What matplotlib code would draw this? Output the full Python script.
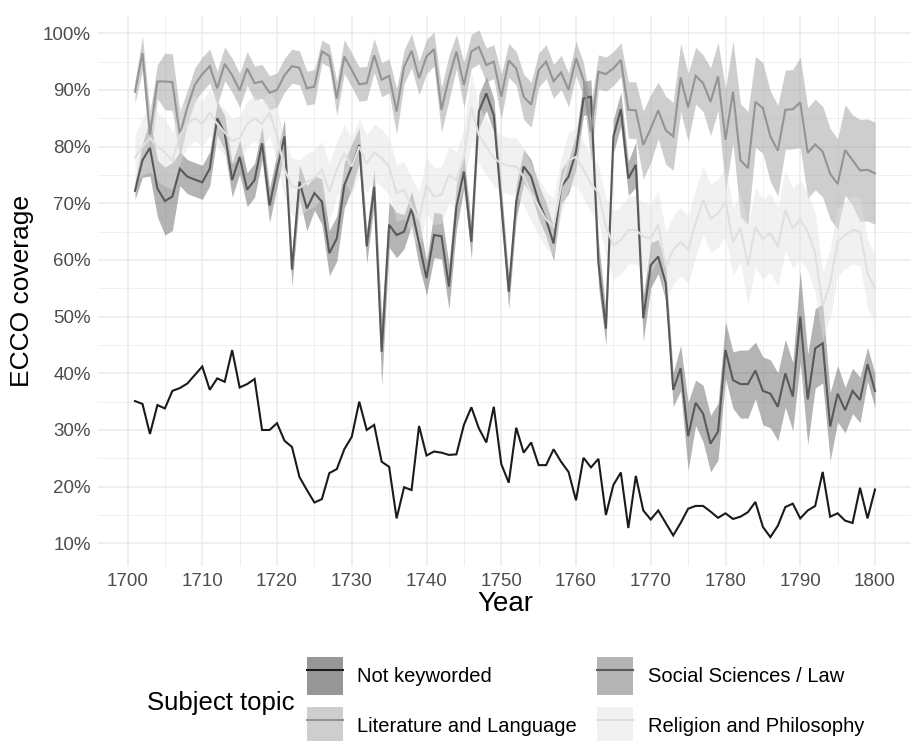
import numpy as np
import matplotlib
matplotlib.use('Agg')
import matplotlib.pyplot as plt
from matplotlib.patches import Patch
from matplotlib.lines import Line2D
from matplotlib.ticker import MultipleLocator

plt.rcParams['font.family'] = ['Liberation Sans', 'DejaVu Sans']

years = np.arange(1701, 1801)

# coverage (%) per year
not_keyworded = [35.1, 34.6, 29.3, 34.4, 33.8, 36.9, 37.4, 38.2, 39.7, 41.2,
                 37.1, 39.1, 38.5, 44.1, 37.5, 38.1, 39.0, 30.0, 30.0, 31.2,
                 28.1, 27.0, 21.7, 19.4, 17.2, 17.8, 22.4, 23.1, 26.6, 28.8,
                 35.0, 30.0, 30.9, 24.4, 23.5, 14.4, 19.9, 19.4, 30.7, 25.5,
                 26.2, 26.0, 25.6, 25.7, 30.9, 34.0, 30.3, 27.8, 34.1, 24.0,
                 20.7, 30.4, 26.0, 27.8, 23.8, 23.8, 26.6, 24.4, 22.6, 17.6,
                 25.1, 23.4, 24.9, 15.0, 20.3, 22.5, 12.7, 21.9, 15.8, 14.2,
                 15.8, 13.6, 11.4, 13.6, 16.1, 16.6, 16.6, 15.6, 14.5, 15.3,
                 14.3, 14.7, 15.5, 17.3, 12.9, 11.1, 13.1, 16.4, 17.0, 14.4,
                 15.8, 16.6, 22.6, 14.7, 15.3, 14.0, 13.6, 19.8, 14.4, 19.5]

social_law = [72.2, 77.6, 79.8, 72.6, 70.4, 71.2, 76.1, 74.7, 74.2, 73.7,
              76.1, 85.0, 82.4, 74.1, 78.2, 72.4, 74.1, 80.6, 69.6, 75.9,
              81.8, 58.3, 73.8, 69.1, 71.8, 70.3, 61.2, 63.8, 73.2, 76.5,
              80.3, 62.4, 72.9, 43.8, 66.2, 64.4, 65.0, 69.1, 63.0, 56.8,
              64.4, 64.2, 55.3, 69.4, 75.6, 63.2, 86.2, 89.4, 85.5, 70.0,
              54.4, 70.3, 76.5, 74.7, 70.3, 67.1, 62.9, 72.9, 74.7, 79.1,
              88.5, 88.8, 59.4, 47.9, 81.8, 86.6, 74.4, 76.8, 49.7, 59.1,
              60.6, 55.9, 37.1, 40.9, 28.9, 34.8, 32.9, 27.6, 29.7, 44.1,
              38.8, 38.1, 38.1, 40.5, 36.9, 36.4, 34.1, 40.0, 35.9, 50.0,
              35.4, 44.4, 45.3, 30.6, 36.4, 33.5, 36.9, 35.3, 41.6, 36.9]
social_hw = [1.5, 3, 5, 5, 6, 6, 3, 3, 3, 3,
             3, 3, 3, 3, 3, 3, 3, 3, 3, 3,
             3, 3, 3, 4, 3, 4, 4, 4, 4, 4,
             3, 3, 3, 6, 4, 4, 3, 3, 4, 3,
             4, 4, 4, 4, 3, 3, 3, 3, 3, 3,
             3, 3, 3, 3, 3, 3, 3, 3, 3, 3,
             3, 3, 4, 3, 3, 3, 3, 4, 4, 4,
             3, 3, 3, 4, 6, 4, 5, 5, 5, 5,
             5, 6, 6, 5, 6, 6, 6, 6, 6, 8,
             8, 7, 7, 6, 5, 4, 4, 4, 3, 3]

literature = [89.7, 96.5, 82.1, 91.5, 91.5, 91.4, 82.1, 86.9, 90.9, 92.8,
              94.2, 90.3, 94.6, 92.6, 89.9, 93.8, 91.2, 91.5, 89.5, 90.0,
              92.6, 94.2, 93.9, 90.3, 90.6, 96.8, 96.0, 88.5, 95.9, 93.5,
              91.0, 91.2, 96.1, 91.8, 92.5, 86.2, 94.1, 96.9, 92.1, 95.9,
              97.2, 86.5, 92.1, 96.8, 90.9, 96.8, 97.6, 94.4, 95.0, 88.8,
              95.2, 93.8, 88.8, 87.4, 93.5, 95.0, 91.5, 93.1, 90.0, 95.6,
              91.8, 82.6, 93.2, 92.8, 93.8, 95.3, 86.5, 86.4, 80.3, 83.2,
              86.4, 82.9, 81.8, 92.2, 86.9, 92.5, 91.2, 87.9, 92.4, 81.2,
              89.7, 77.6, 76.2, 87.9, 86.8, 81.8, 79.3, 86.5, 86.6, 87.8,
              78.9, 80.4, 79.1, 75.2, 73.4, 79.4, 77.6, 75.8, 75.9, 75.3]
literature_hw = [2, 3, 4, 3, 5, 5, 4, 3, 3, 3,
                 3, 3, 3, 3, 3, 3, 3, 3, 3, 3,
                 3, 3, 3, 3, 3, 2, 2, 3, 3, 3,
                 3, 3, 3, 3, 3, 4, 3, 3, 3, 3,
                 3, 4, 4, 3, 4, 3, 3, 3, 3, 4,
                 3, 3, 4, 4, 3, 3, 3, 3, 3, 3,
                 3, 5, 3, 3, 3, 3, 5, 5, 6, 6,
                 5, 6, 6, 6, 6, 5, 5, 6, 6, 9,
                 9, 10, 10, 8, 8, 8, 8, 7, 7, 8,
                 8, 8, 8, 8, 8, 8, 8, 9, 9, 9]

religion = [78, 80, 81.5, 80, 79, 77.5, 82, 84, 85, 84,
            86, 84, 82.5, 81, 81.5, 84, 85, 84, 86, 82,
            76, 73, 72.7, 73.8, 74.4, 75.9, 72, 76, 78.8, 76.5,
            80, 77, 79, 78, 76.5, 71.8, 72.3, 69.4, 67.1, 73.2,
            71.2, 71.5, 75.0, 74.1, 78.2, 87, 82, 80, 78, 77,
            76.6, 76.5, 74.7, 71.8, 69.4, 67.1, 65.9, 72.9, 77.6, 78.2,
            75.9, 73.5, 71.8, 65.9, 62.6, 63.5, 65.3, 65.3, 64.1, 63.8,
            66.2, 58.8, 61.8, 63.2, 61.8, 66.5, 70.6, 67.3, 68.2, 70.3,
            63.2, 65.6, 59.1, 65.8, 63.7, 64.8, 62.3, 68.8, 65.6, 67.1,
            65.0, 61.2, 51.8, 55.9, 63.2, 64.4, 65.3, 65.0, 57.6, 55.0]
religion_hw = [4, 5, 6, 6, 6, 5, 5, 4, 4, 4,
               4, 4, 4, 4, 4, 4, 4, 4, 4, 5,
               5, 5, 5, 5, 5, 5, 5, 5, 5, 5,
               5, 5, 5, 5, 5, 5, 5, 5, 5, 5,
               5, 5, 5, 5, 5, 6, 5, 5, 5, 5,
               5, 5, 5, 5, 5, 5, 5, 5, 5, 5,
               5, 5, 5, 5, 6, 6, 6, 6, 6, 6,
               6, 6, 6, 6, 6, 6, 6, 6, 6, 6,
               6, 6, 7, 7, 7, 7, 7, 7, 7, 7,
               7, 7, 6, 6, 6, 6, 6, 6, 6, 6]

labels = ['Not keyworded', 'Social Sciences / Law', 'Literature and Language', 'Religion and Philosophy']
colors = ['#1a1a1a', '#595959', '#949494', '#e0e0e0']
series = [not_keyworded, social_law, literature, religion]
halfwidths = [None, social_hw, literature_hw, religion_hw]
fill_alpha = 0.45

fig = plt.figure(figsize=(9.12, 7.41), dpi=100)
ax = fig.add_axes([98 / 912, 1 - 566 / 741, 814 / 912, 550 / 741])

for vals, hw, c in zip(series, halfwidths, colors):
    if hw is None:
        continue
    v = np.array(vals)
    h = np.array(hw)
    ax.fill_between(years, v - h, v + h, color=c, alpha=fill_alpha, lw=0)

for vals, c in zip(series, colors):
    ax.plot(years, vals, color=c, lw=1.5, solid_joinstyle='miter')

ax.set_xlim(1696.05, 1804.95)
ax.set_ylim(6.0, 103.05)
ax.set_xticks(range(1700, 1801, 10))
ax.set_yticks(range(10, 101, 10))
ax.set_yticklabels([f'{v}%' for v in range(10, 101, 10)])
ax.xaxis.set_minor_locator(MultipleLocator(5))
ax.yaxis.set_minor_locator(MultipleLocator(5))
ax.grid(which='major', color='#ebebeb', lw=1.1)
ax.grid(which='minor', color='#ebebeb', lw=0.55)
ax.set_axisbelow(True)
for s in ax.spines.values():
    s.set_visible(False)
ax.tick_params(which='both', length=0, labelsize=13.5, labelcolor='#4d4d4d', pad=5)

fig.text(505 / 912, 1 - 604 / 741, 'Year', ha='center', va='center', fontsize=20)
fig.text(22 / 912, 1 - 291 / 741, 'ECCO coverage', ha='center', va='center',
         rotation=90, fontsize=19)

# legend: row-major order in the picture, so feed columns
order = [0, 2, 1, 3]
handles = []
for i in order:
    p = Patch(facecolor=colors[i], alpha=fill_alpha, edgecolor='none')
    ln = Line2D([], [], color=colors[i], lw=1.5)
    handles.append((p, ln))
fig.legend(handles, [labels[i] for i in order], ncol=2, loc='upper left',
           bbox_to_anchor=(307 / 912, 1 - 657 / 741), frameon=False,
           fontsize=14.5, handlelength=1.8, handleheight=2.53, labelspacing=0.6,
           handletextpad=0.7, columnspacing=1.0, borderpad=0, borderaxespad=0)
fig.text(147 / 912, 1 - 703 / 741, 'Subject topic', ha='left', va='center', fontsize=18.5)

fig.savefig('out.png', dpi=100)
